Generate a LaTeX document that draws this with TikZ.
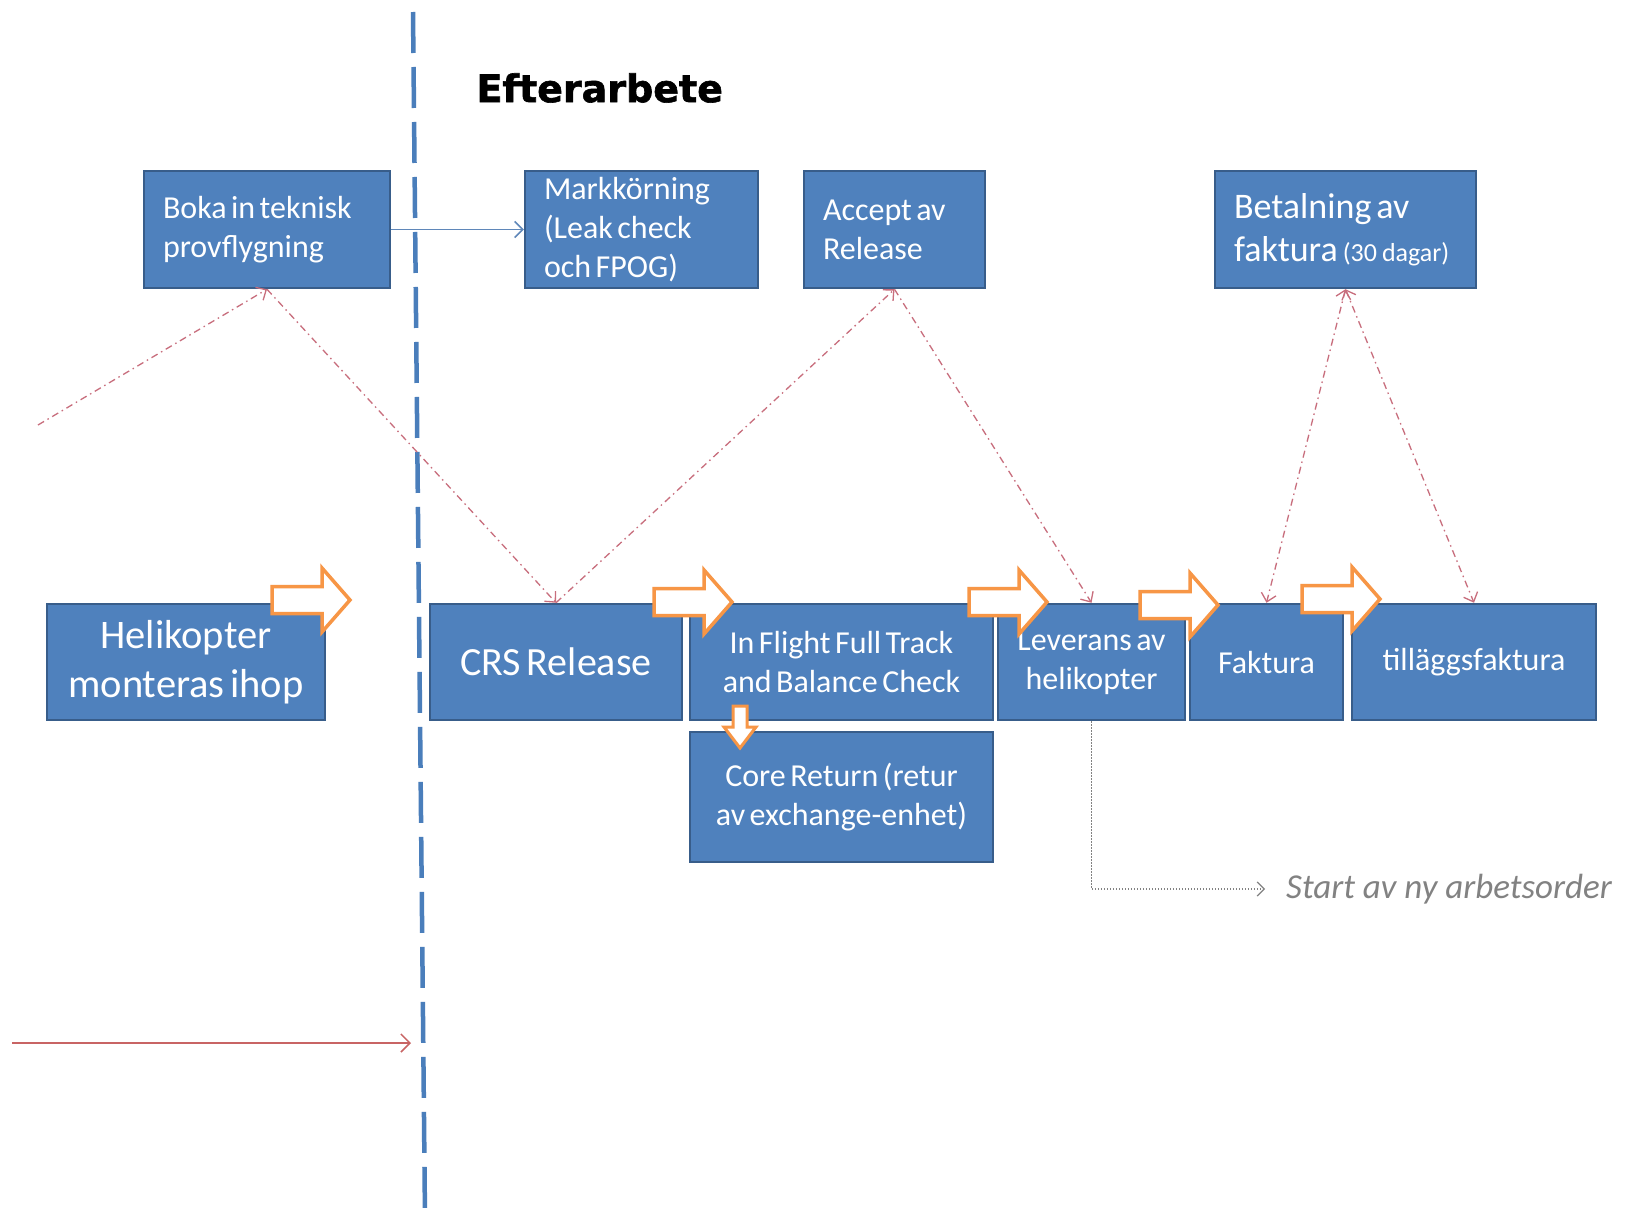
\documentclass[tikz,border=0pt]{standalone}
\usepackage{fontspec}
\setmainfont{Carlito}
\newfontfamily\titlefont{DejaVu Sans}[BoldFeatures={FakeBold=1.6}]
\usetikzlibrary{arrows.meta,backgrounds}
\definecolor{boxfill}{RGB}{79,129,189}
\definecolor{boxline}{RGB}{56,93,138}
\definecolor{sepblue}{RGB}{74,126,187}
\definecolor{thinblue}{RGB}{95,135,185}
\definecolor{oran}{RGB}{247,150,70}
\definecolor{redline}{RGB}{200,110,125}
\definecolor{solidred}{RGB}{200,100,100}
\definecolor{greyline}{RGB}{130,130,130}
\newcommand{\tightsp}{\spaceskip=0.14em\relax}
\begin{document}
\begin{tikzpicture}[x=1pt,y=-1pt,
  box/.style={draw=boxline, line width=2.5pt, fill=boxfill, text=white, inner sep=0pt,
    font=\fontsize{32}{39}\selectfont},
  lbox/.style={box, align=left},
  cbox/.style={box, align=center},
  reddash/.style={draw=redline, line width=1.3pt, dash pattern=on 7pt off 4pt on 1.5pt off 4pt},
  barbtip/.tip={Straight Barb[length=8pt,width=15pt]},
  oarrow/.style={draw=oran, line width=3.5pt, fill=white, line join=miter},
  rarrow/.pic={\path[oarrow] (-78,-13.5) -- (-28,-13.5) -- (-28,-32) -- (0,0) -- (-28,32) -- (-28,13.5) -- (-78,13.5) -- cycle;}
]
\useasboundingbox (0,0) rectangle (1625,1218);
\fill[white] (0,0) rectangle (1625,1218);

% separator
\coordinate (septop) at (413,12);
\coordinate (sepbot) at (425,1218);
\draw[sepblue, line width=4.5pt, dash pattern=on 41pt off 14pt] (septop) -- (sepbot);

% title
\node[font=\titlefont\bfseries\fontsize{38}{44}\selectfont, anchor=west] (title) at (473,88) {Efterarbete};

% top boxes
\node[lbox, minimum width=246pt, minimum height=117pt, text width=208pt] (boka) at (267,229.5) {\tightsp Boka in teknisk\\provflygning};
\node[lbox, minimum width=233pt, minimum height=117pt, text width=195pt] (mark) at (641.5,229.5) {\tightsp Markkörning\\(Leak check\\och FPOG)};
\node[lbox, minimum width=181pt, minimum height=117pt, text width=143pt] (accept) at (894.5,229.5) {\tightsp Accept av\\Release};
\node[lbox, minimum width=261pt, minimum height=117pt, text width=223pt, font=\fontsize{36}{43}\selectfont] (bet) at (1345.5,229.5) {\tightsp Betalning av\\\mbox{faktura {\fontsize{26}{30}\selectfont(30 dagar)}}};

% main row
\node[cbox, minimum width=278pt, minimum height=116pt, text width=270pt, font=\fontsize{40.5}{49}\selectfont] (heli) at (186,662) {\tightsp Helikopter\\monteras ihop};
\node[cbox, minimum width=252pt, minimum height=116pt, text width=244pt, font=\fontsize{40}{49}\selectfont] (crs) at (556,662) {\tightsp CRS Release};
\node[cbox, minimum width=303pt, minimum height=116pt, text width=295pt] (flight) at (841.5,662) {\tightsp In Flight Full Track\\and Balance Check};
\node[cbox, minimum width=187pt, minimum height=116pt, text width=181pt] (lev) at (1091.5,662) {\tightsp Leverans av\\helikopter};
\node[cbox, minimum width=153pt, minimum height=116pt, text width=147pt] (fak) at (1266.5,662) {Faktura};
\node[cbox, minimum width=244pt, minimum height=116pt, text width=238pt] (till) at (1474,662) {tilläggsfaktura};
\node[cbox, minimum width=303pt, minimum height=130pt, text width=295pt] (core) at (841.5,797) {\tightsp Core Return (retur\\av exchange-enhet)};

% start text
\node[anchor=west, text=greyline, font=\itshape\fontsize{35}{42}\selectfont, inner sep=0pt] (start) at (1286,889) {Start av ny arbetsorder};

% background thin line
\coordinate (lstart) at (12,662);
\begin{pgfonlayer}{background}
\draw[thinblue, line width=1.5pt] (lstart) -- (heli.west);
\draw[thinblue, line width=1.5pt] (heli.east) -- (crs.west);
\draw[thinblue, line width=1.5pt] (crs.east) -- (flight.west);
\draw[thinblue, line width=1.5pt] (flight.east) -- (lev.west);
\draw[thinblue, line width=1.5pt] (lev.east) -- (fak.west);
\draw[thinblue, line width=1.5pt] (fak.east) -- (till.west);
\end{pgfonlayer}

% boka -> mark
\draw[thinblue, line width=1.5pt, -{Straight Barb[length=8pt,width=16pt]}] (boka.east) -- (mark.west);

% red dash-dot connectors
\coordinate (redfree) at (38,425);
\draw[reddash, -barbtip] (redfree) -- (boka.south);
\draw[reddash, -barbtip] (boka.south) -- (crs.north);
\draw[reddash, -barbtip] (crs.north) -- (accept.south);
\draw[reddash, -barbtip] (accept.south) -- (lev.north);
\draw[reddash, barbtip-barbtip] (bet.south) -- (fak.north);
\draw[reddash, barbtip-barbtip] (bet.south) -- (till.north);

% start av ny arbetsorder
\draw[greyline, line width=1.2pt, dash pattern=on 1.5pt off 1.5pt, shorten >=21pt, -{Straight Barb[length=7pt,width=14pt]}] (lev.south) |- (start.west);

% bottom red arrow
\coordinate (rstart) at (12,1043);
\coordinate (rend) at (411,1043);
\draw[solidred, line width=1.5pt, -{Straight Barb[length=9pt,width=18pt]}] (rstart) -- (rend);

% orange block arrows
\pic at (350,600) {rarrow};
\pic at (732,602) {rarrow};
\pic at (1047,602) {rarrow};
\pic at (1218,605) {rarrow};
\pic at (1380,599) {rarrow};
\path[oarrow, line width=3pt] (733,706) -- (747,706) -- (747,727) -- (756,727) -- (740,748) -- (724,727) -- (733,727) -- cycle;
\end{tikzpicture}
\end{document}
